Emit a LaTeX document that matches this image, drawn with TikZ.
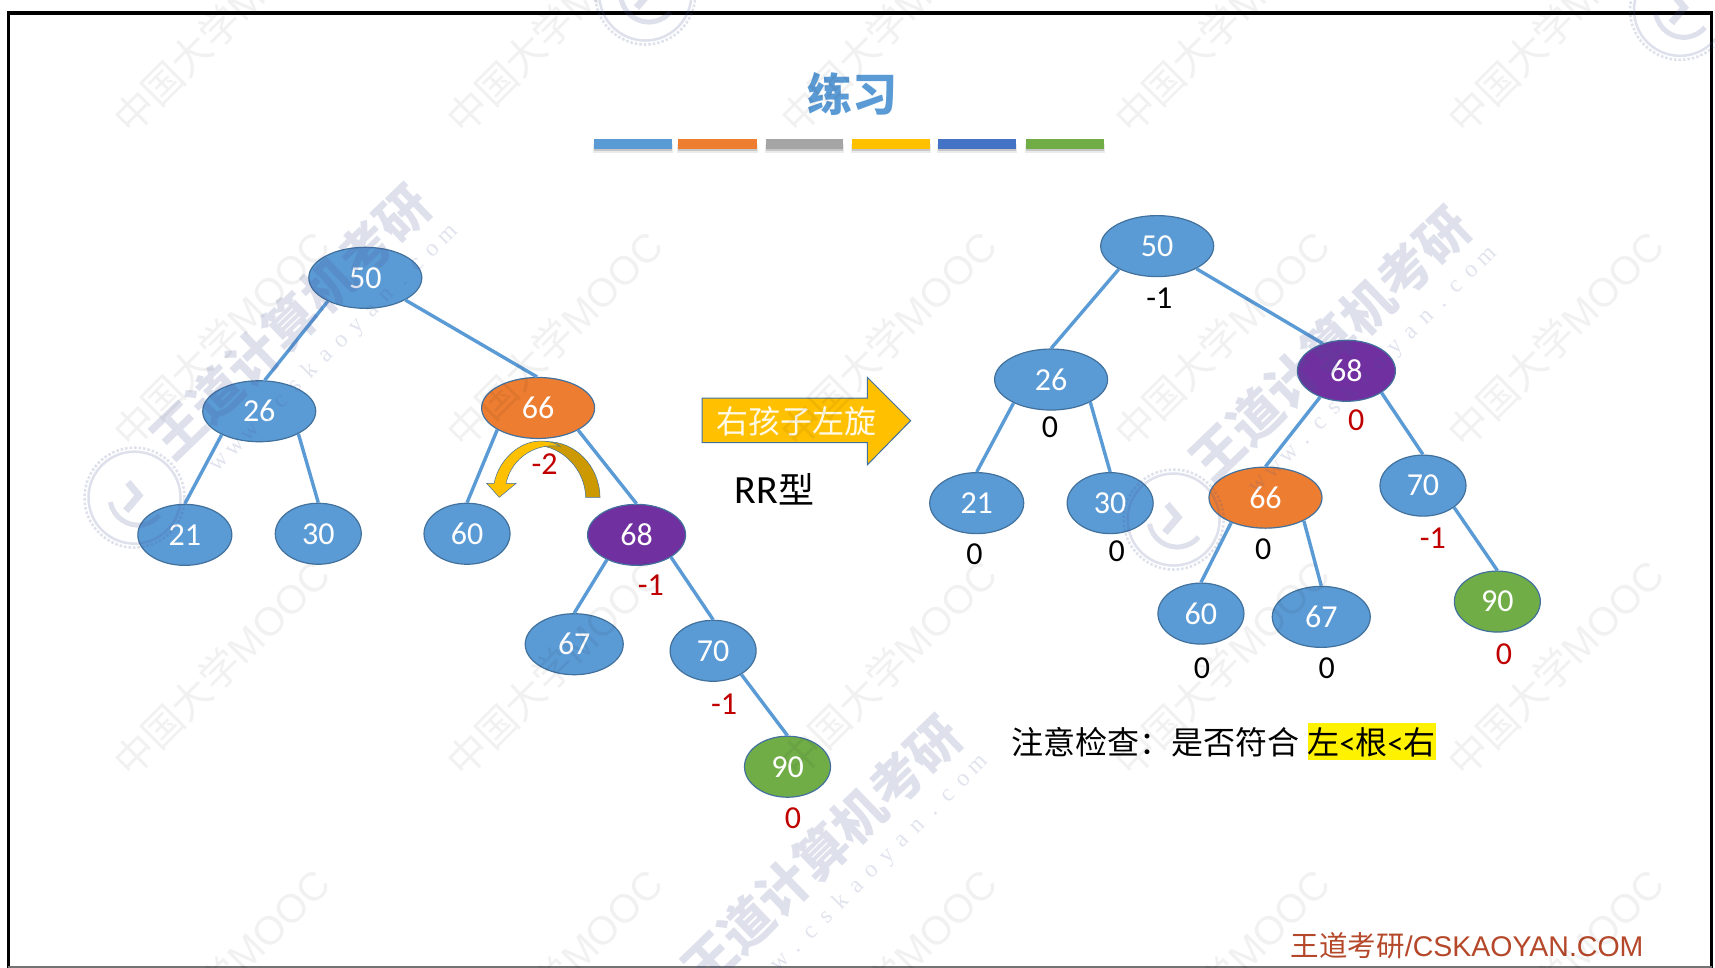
\documentclass[tikz,border=0pt]{standalone}
\usepackage{fontspec}
\setmainfont{Carlito}
\newfontfamily\cjk{Noto Sans CJK SC}
\newfontfamily\arial{Liberation Sans}
\newfontfamily\serifw{Liberation Serif}
\usetikzlibrary{shapes.geometric}
\definecolor{nblue}{HTML}{5B9BD5}
\definecolor{norange}{HTML}{ED7D31}
\definecolor{ngray}{HTML}{A5A5A5}
\definecolor{ngold}{HTML}{FFC000}
\definecolor{ndark}{HTML}{4472C4}
\definecolor{ngreen}{HTML}{70AD47}
\definecolor{npurple}{HTML}{7030A0}
\definecolor{nline}{HTML}{41719C}
\definecolor{nred}{HTML}{C00000}
\definecolor{darkgold}{HTML}{CC9A00}
\definecolor{brandc}{HTML}{B5482A}
\definecolor{wmv}{HTML}{4A5598}
\newcommand{\fs}[1]{\fontsize{#1}{#1}\selectfont}
\newcommand{\wl}[1]{\makebox[21.5pt]{#1}}
\newcommand{\wmurl}{\wl{w}\wl{w}\wl{w}\wl{.}\wl{c}\wl{s}\wl{k}\wl{a}\wl{o}\wl{y}\wl{a}\wl{n}\wl{.}\wl{c}\wl{o}\wl{m}}
\tikzset{
  treenode/.style={ellipse,draw=nline,line width=1.2pt,inner sep=0pt,minimum height=61pt,text=white,font=\fs{32}},
  wide/.style={treenode,minimum width=113pt},
  mid/.style={treenode,minimum width=98pt},
  narrow/.style={treenode,minimum width=86pt},
  edge/.style={draw=nblue,line width=3.4pt},
  bal/.style={font=\fs{32},inner sep=0pt},
  wmtext/.style={text=black,text opacity=.055,font=\cjk\fs{40},rotate=45,anchor=west,inner sep=0pt},
  wmbig/.style={text=wmv,text opacity=.18,font=\cjk\bfseries\fs{52},rotate=44,anchor=west,inner sep=0pt},
  wmsmall/.style={text=wmv,text opacity=.16,font=\serifw\fs{24},rotate=45,anchor=west,inner sep=0pt},
  wmring/.style={draw=wmv,draw opacity=.18},
}
\begin{document}
\begin{tikzpicture}[x=1.09375pt,y=-1.09375pt]
\useasboundingbox (0,0) rectangle (1568,885);
\fill[white] (0,0) rectangle (1568,885);
% frame
\draw[black,line width=3.4pt] (7.6,885) -- (7.6,12) -- (1565,12) -- (1565,885);
\draw[black!55,line width=1.6pt] (7.6,884) -- (1565,884);
% title
\node[text=nblue,font=\cjk\bfseries\fs{45},inner sep=0pt] (title) at (779,86) {练习};
\foreach \xa/\xb/\c in {543/614/nblue,620/692/norange,700/771/ngray,779/850/ngold,858/929/ndark,938/1009/ngreen}{
  \fill[black!8] (\xa-1,132) rectangle (\xb+1,140);
  \fill[black!22] (\xa,130) rectangle (\xb,138);
  \fill[\c] (\xa,127) rectangle (\xb,136);
}
% left tree
\node[wide,fill=nblue] (l50) at (334,254) {50};
\node[wide,fill=nblue] (l26) at (237,376) {26};
\node[wide,fill=norange] (l66) at (492,373) {66};
\node[narrow,fill=nblue,minimum width=94pt] (l21) at (169,489) {21};
\node[narrow,fill=nblue] (l30) at (291,488) {30};
\node[narrow,fill=nblue] (l60) at (427,488) {60};
\node[mid,fill=npurple] (l68) at (582,489) {68};
\node[mid,fill=nblue] (l67) at (525,589) {67};
\node[narrow,fill=nblue] (l70) at (652,595) {70};
\node[narrow,fill=ngreen] (l90) at (720,701) {90};
\draw[edge] (l50.212) -- (l26.80);
\draw[edge] (l50.331) -- (l66.92);
\draw[edge] (l26.212) -- (l21.90);
\draw[edge] (l26.330) -- (l30.90);
\draw[edge] (l66.208) -- (l60.90);
\draw[edge] (l66.331) -- (l68.90);
\draw[edge] (l68.220) -- (l67.90);
\draw[edge] (l68.327) -- (l70.90);
\draw[edge] (l70.320) -- (l90.90);
\node[bal,text=nred] (lb66) at (498,424) {-2};
\node[bal,text=nred] (lb68) at (595,535) {-1};
\node[bal,text=nred] (lb70) at (662,644) {-1};
\node[bal,text=nred] (lb90) at (725,748) {0};
% curved arrow
\fill[darkgold,draw=nline,line width=.5pt] (548.6,454.7) .. controls (548,425) and (525,403.5) .. (500,403.8) .. controls (497,404) and (493,405) .. (490,407) .. controls (515,408) and (535,430) .. (535.5,454.7) -- cycle;
\fill[ngold,draw=nline,line width=.5pt] (456.5,454.7) -- (445,442) -- (451.7,442) .. controls (456,420) and (475,404) .. (492,403.4) .. controls (500,403) and (506,404) .. (512,408) .. controls (490,405) and (468,418) .. (462.6,442) -- (471.8,442) -- cycle;
% big arrow
\fill[ngold,draw=nline,line width=1pt] (642,364) -- (793,364) -- (793,345) -- (832.6,384.6) -- (793,425) -- (793,404.7) -- (642,404.7) -- cycle;
\node[text=white!90!ngold,font=\cjk\fs{32},inner sep=0pt] (rot) at (728,385) {右孩子左旋};
\node[font=\fs{40},inner sep=0pt] (rr) at (708,447) {RR{\cjk\fs{36}型}};
% right tree
\node[wide,fill=nblue] (r50) at (1058,225) {50};
\node[wide,fill=nblue] (r26) at (961,347) {26};
\node[mid,fill=npurple] (r68) at (1231,339) {68};
\node[narrow,fill=nblue,minimum width=94pt] (r21) at (893,460) {21};
\node[narrow,fill=nblue] (r30) at (1015,460) {30};
\node[wide,fill=norange] (r66) at (1157,455) {66};
\node[narrow,fill=nblue] (r70) at (1301,444) {70};
\node[narrow,fill=nblue] (r60) at (1098,561) {60};
\node[mid,fill=nblue] (r67) at (1208,564) {67};
\node[narrow,fill=ngreen] (r90) at (1369,550) {90};
\draw[edge] (r50.211) -- (r26.90);
\draw[edge] (r50.330) -- (r68.131);
\draw[edge] (r26.212) -- (r21.90);
\draw[edge] (r26.330) -- (r30.90);
\draw[edge] (r68.225) -- (r66.90);
\draw[edge] (r68.328) -- (r70.90);
\draw[edge] (r66.216) -- (r60.90);
\draw[edge] (r66.329) -- (r67.90);
\draw[edge] (r70.325) -- (r90.90);
\node[bal] (rb50) at (1060,273) {-1};
\node[bal] (rb26) at (960,391) {0};
\node[bal,text=nred] (rb68) at (1240,384) {0};
\node[bal] (rb21) at (891,507) {0};
\node[bal] (rb30) at (1021,504) {0};
\node[bal] (rb66) at (1155,502) {0};
\node[bal,text=nred] (rb70) at (1310,492) {-1};
\node[bal] (rb60) at (1099,611) {0};
\node[bal] (rb67) at (1213,611) {0};
\node[bal,text=nred] (rb90) at (1375,598) {0};
% note
\node[font=\cjk\fs{32},inner sep=0pt,anchor=west] (note) at (925,679) {注意检查：是否符合};
\fill[yellow] (1195.6,661) rectangle (1313,695);
\node[font=\fs{32},inner sep=0pt] (rule) at (1254,679) {{\cjk 左}<{\cjk 根}<{\cjk 右}};
\node[text=brandc,font=\arial\fs{28.5},inner sep=0pt,anchor=west] (brand) at (1180,865) {{\cjk 王道考研}/CSKAOYAN.COM};
% watermarks
\foreach \cx in {110,415,720,1025,1330}{
  \foreach \cy in {115,402,703,985}{
    \node[wmtext] at (\cx,\cy) {中国大学\arial MOOC};
  }
}
\foreach \px/\py in {146/410,1096/430,631/895}{
  \node[wmbig] at (\px,\py) {王道计算机考研};
  \node[wmsmall] at (\px+48,\py+20) {\wmurl};
}
\foreach \px/\py in {123/455,1073/475,590/-5,1536/9}{
  \draw[wmring,line width=2.5pt,dotted] (\px,\py) circle[radius=50pt];
  \draw[wmring,line width=2.5pt] (\px,\py) circle[radius=46pt];
  \draw[wmring,line width=5pt] (\px-22,\py+4) arc[start angle=190,end angle=320,radius=28pt];
  \draw[wmring,line width=7pt] (\px-6,\py-14) -- (\px+4,\py-2) -- (\px-8,\py+12);
}
\end{tikzpicture}
\end{document}
